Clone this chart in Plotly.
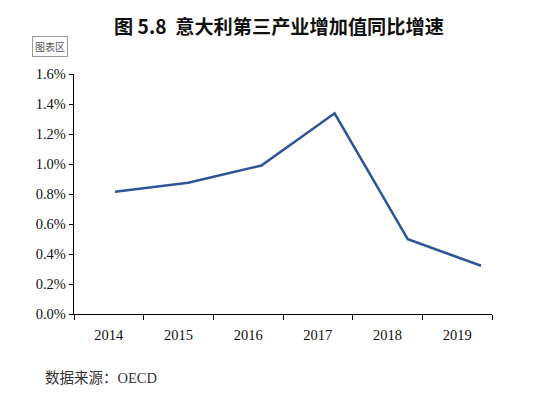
import plotly.graph_objects as go

years = ["2014", "2015", "2016", "2017", "2018", "2019"]
growth = [0.815, 0.875, 0.99, 1.338, 0.498, 0.322]
y_ticks = [0.0, 0.2, 0.4, 0.6, 0.8, 1.0, 1.2, 1.4, 1.6]
y_labels = [f"{v:.1f}%" for v in y_ticks]

serif = "Liberation Serif, Times New Roman, serif"
cjk = "Noto Sans CJK SC, sans-serif"

W, H = 550, 396
L, R, T, B = 74, 58, 74, 82
pw, ph = W - L - R, H - T - B

def px(x):
    return (x - L) / pw

def py(y):
    return (H - B - y) / ph

fig = go.Figure()
fig.add_trace(go.Scatter(x=years, y=[None] * len(years), xaxis="x", yaxis="y",
                         mode="lines", showlegend=False, hoverinfo="skip"))
fig.add_trace(go.Scatter(x=years, y=growth, xaxis="x2", yaxis="y",
                         mode="lines", line=dict(color="#2E5597", width=2.6),
                         showlegend=False))

fig.update_layout(
    width=W, height=H,
    margin=dict(l=L, r=R, t=T, b=B),
    paper_bgcolor="white", plot_bgcolor="white",
    title=dict(text="<b>图 5.8  意大利第三产业增加值同比增速</b>",
               x=px(286), xanchor="center", y=1 - 27 / H, yanchor="middle",
               font=dict(family=cjk, size=19.2, color="#111")),
    xaxis=dict(type="category", range=[-0.5, 5.5], showline=True, linecolor="black",
               linewidth=1.3, ticks="outside", ticklen=5, tickcolor="black",
               tickson="boundaries", showgrid=False, zeroline=False,
               ticklabelstandoff=7,
               tickfont=dict(family=serif, size=14.5, color="#111")),
    xaxis2=dict(type="category", overlaying="x", range=[-0.56, 5.15], visible=False),
    yaxis=dict(range=[0, 1.6], tickvals=y_ticks, ticktext=y_labels,
               showline=True, linecolor="black", linewidth=1.3, ticks="outside",
               ticklen=4, tickcolor="black", showgrid=False, zeroline=False,
               tickfont=dict(family=serif, size=14.5, color="#111")),
    annotations=[
        dict(text="图表区", x=px(50), y=py(46.5), xref="paper", yref="paper",
             xanchor="center", yanchor="middle", showarrow=False,
             font=dict(family=cjk, size=10, color="#555"),
             bordercolor="#999", borderwidth=1, borderpad=2, bgcolor="white"),
        dict(text="数据来源：OECD", xref="paper", yref="paper", x=px(43), y=py(378),
             xanchor="left", yanchor="middle", showarrow=False,
             font=dict(family="Liberation Serif, Noto Sans CJK SC", size=14.5, color="#333")),
    ],
)

fig.write_html("out.html", config={"displayModeBar": False},
               post_script="document.body.style.margin='0';")
